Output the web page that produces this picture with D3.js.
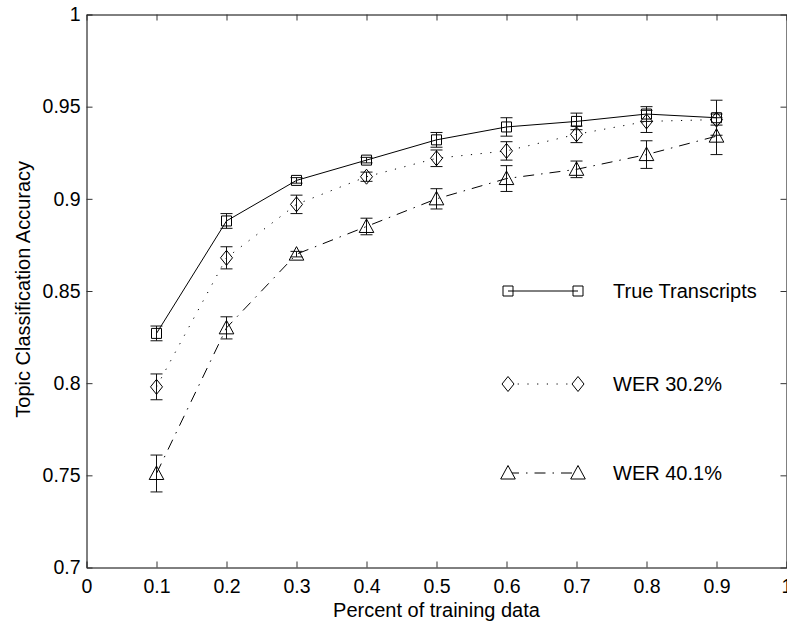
<!DOCTYPE html>
<html>
<head>
<meta charset="utf-8">
<script src="https://cdn.jsdelivr.net/npm/d3@7"></script>
<style>
  body { margin: 0; background: #fff; }
  svg { display: block; font-family: "Liberation Sans", Arial, Helvetica, sans-serif; }
</style>
</head>
<body>
<div id="chart"></div>
<script>
// values
const trainPct = [0.1, 0.2, 0.3, 0.4, 0.5, 0.6, 0.7, 0.8, 0.9];
const trueAcc = [0.827, 0.888, 0.910, 0.921, 0.932, 0.939, 0.942, 0.946, 0.944];
const trueErr = [0.004, 0.004, 0.0015, 0.0015, 0.004, 0.005, 0.0045, 0.004, 0.0095];
const wer30Acc = [0.798, 0.868, 0.897, 0.912, 0.922, 0.926, 0.935, 0.942, 0.943];
const wer30Err = [0.007, 0.006, 0.005, 0.0025, 0.0045, 0.005, 0.0045, 0.006, 0.003];
const wer40Acc = [0.751, 0.830, 0.870, 0.885, 0.900, 0.911, 0.916, 0.924, 0.934];
const wer40Err = [0.010, 0.006, 0.0015, 0.0045, 0.0055, 0.007, 0.0045, 0.0075, 0.010];
const seriesNames = ["True Transcripts", "WER 30.2%", "WER 40.1%"];
const xTicks = [0, 0.1, 0.2, 0.3, 0.4, 0.5, 0.6, 0.7, 0.8, 0.9, 1];
const yTicks = [0.7, 0.75, 0.8, 0.85, 0.9, 0.95, 1];

const W = 787, H = 622;
const margin = {top: 14.5, right: 0.5, bottom: 54.5, left: 86.5};
const width = W - margin.left - margin.right;
const height = H - margin.top - margin.bottom;

const svg = d3.select("#chart").append("svg")
  .attr("width", W)
  .attr("height", H);

const g = svg.append("g")
  .attr("transform", "translate(" + margin.left + "," + margin.top + ")");

const x = d3.scaleLinear().domain([0, 1]).range([0, width]);
const y = d3.scaleLinear().domain([0.7, 1]).range([height, 0]);

// axes, ticks pointing inward on all four sides
const fmt = d => String(+d.toFixed(2));

const xAxis = g.append("g")
  .attr("transform", "translate(0," + height + ")")
  .call(d3.axisBottom(x).tickValues(xTicks).tickFormat(fmt).tickSizeInner(-6).tickSizeOuter(0).tickPadding(12));
const yAxis = g.append("g")
  .call(d3.axisLeft(y).tickValues(yTicks).tickFormat(fmt).tickSizeInner(-6).tickSizeOuter(0).tickPadding(6));
const xTop = g.append("g")
  .call(d3.axisTop(x).tickValues(xTicks).tickFormat("").tickSizeInner(-6).tickSizeOuter(0));
const yRight = g.append("g")
  .attr("transform", "translate(" + width + ",0)")
  .call(d3.axisRight(y).tickValues(yTicks).tickFormat("").tickSizeInner(-6).tickSizeOuter(0));

[xAxis, yAxis, xTop, yRight].forEach(a => {
  a.selectAll(".domain").attr("stroke", "#000").attr("stroke-width", 1);
  a.selectAll(".tick line").attr("stroke", "#333");
  a.selectAll("text").attr("font-size", 19.5).attr("fill", "#000").attr("font-family", null);
});

// axis titles
g.append("text")
  .attr("x", x(0.5))
  .attr("y", height + 49.5)
  .attr("text-anchor", "middle")
  .attr("font-size", 20)
  .text("Percent of training data");

svg.append("text")
  .attr("transform", "translate(23," + (margin.top + height * 0.497) + ") rotate(-90)")
  .attr("text-anchor", "middle")
  .attr("dy", "0.35em")
  .attr("font-size", 20)
  .text("Topic Classification Accuracy");

// series
const series = [
  {name: seriesNames[0], vals: trueAcc, errs: trueErr, dash: null, marker: "square"},
  {name: seriesNames[1], vals: wer30Acc, errs: wer30Err, dash: "1.2,8.5", marker: "diamond"},
  {name: seriesNames[2], vals: wer40Acc, errs: wer40Err, dash: "11,7,1.5,7", marker: "triangle"}
];

function markerPath(type) {
  if (type === "square") return "M-5,-5H5V5H-5Z";
  if (type === "diamond") return "M0,-7.5L6,0L0,7.5L-6,0Z";
  return "M0,-7.5L7.3,6L-7.3,6Z";
}

const line = d3.line()
  .x(d => x(d.x))
  .y(d => y(d.v));

series.forEach(s => {
  const pts = trainPct.map((p, i) => ({x: p, v: s.vals[i], e: s.errs[i]}));
  const sg = g.append("g");

  sg.append("path")
    .datum(pts)
    .attr("fill", "none")
    .attr("stroke", "#000")
    .attr("stroke-width", 1)
    .attr("stroke-dasharray", s.dash)
    .attr("d", line);

  const eb = sg.selectAll(".err").data(pts).enter().append("g")
    .attr("stroke", "#111")
    .attr("stroke-width", 1);
  eb.append("line")
    .attr("x1", d => x(d.x)).attr("x2", d => x(d.x))
    .attr("y1", d => y(d.v - d.e)).attr("y2", d => y(d.v + d.e));
  eb.append("line")
    .attr("x1", d => x(d.x) - 6).attr("x2", d => x(d.x) + 6)
    .attr("y1", d => y(d.v + d.e)).attr("y2", d => y(d.v + d.e));
  eb.append("line")
    .attr("x1", d => x(d.x) - 6).attr("x2", d => x(d.x) + 6)
    .attr("y1", d => y(d.v - d.e)).attr("y2", d => y(d.v - d.e));

  sg.selectAll(".mk").data(pts).enter().append("path")
    .attr("transform", d => "translate(" + x(d.x) + "," + y(d.v) + ")")
    .attr("d", markerPath(s.marker))
    .attr("fill", "none")
    .attr("stroke", "#000")
    .attr("stroke-width", 1);
});

// legend
const legend = svg.append("g").attr("transform", "translate(508,291)");
series.forEach((s, i) => {
  const row = legend.append("g").attr("transform", "translate(0," + [0, 93, 182][i] + ")");
  row.append("line")
    .attr("x1", 0).attr("x2", 70)
    .attr("stroke", "#000")
    .attr("stroke-width", 1)
    .attr("stroke-dasharray", s.dash);
  [0, 70].forEach(mx => {
    row.append("path")
      .attr("transform", "translate(" + mx + ",0)")
      .attr("d", markerPath(s.marker))
      .attr("fill", s.marker === "square" ? "none" : "#fff")
      .attr("stroke", "#000");
  });
  row.append("text")
    .attr("x", 105)
    .attr("dy", "0.35em")
    .attr("font-size", 20)
    .text(s.name);
});
</script>
</body>
</html>
